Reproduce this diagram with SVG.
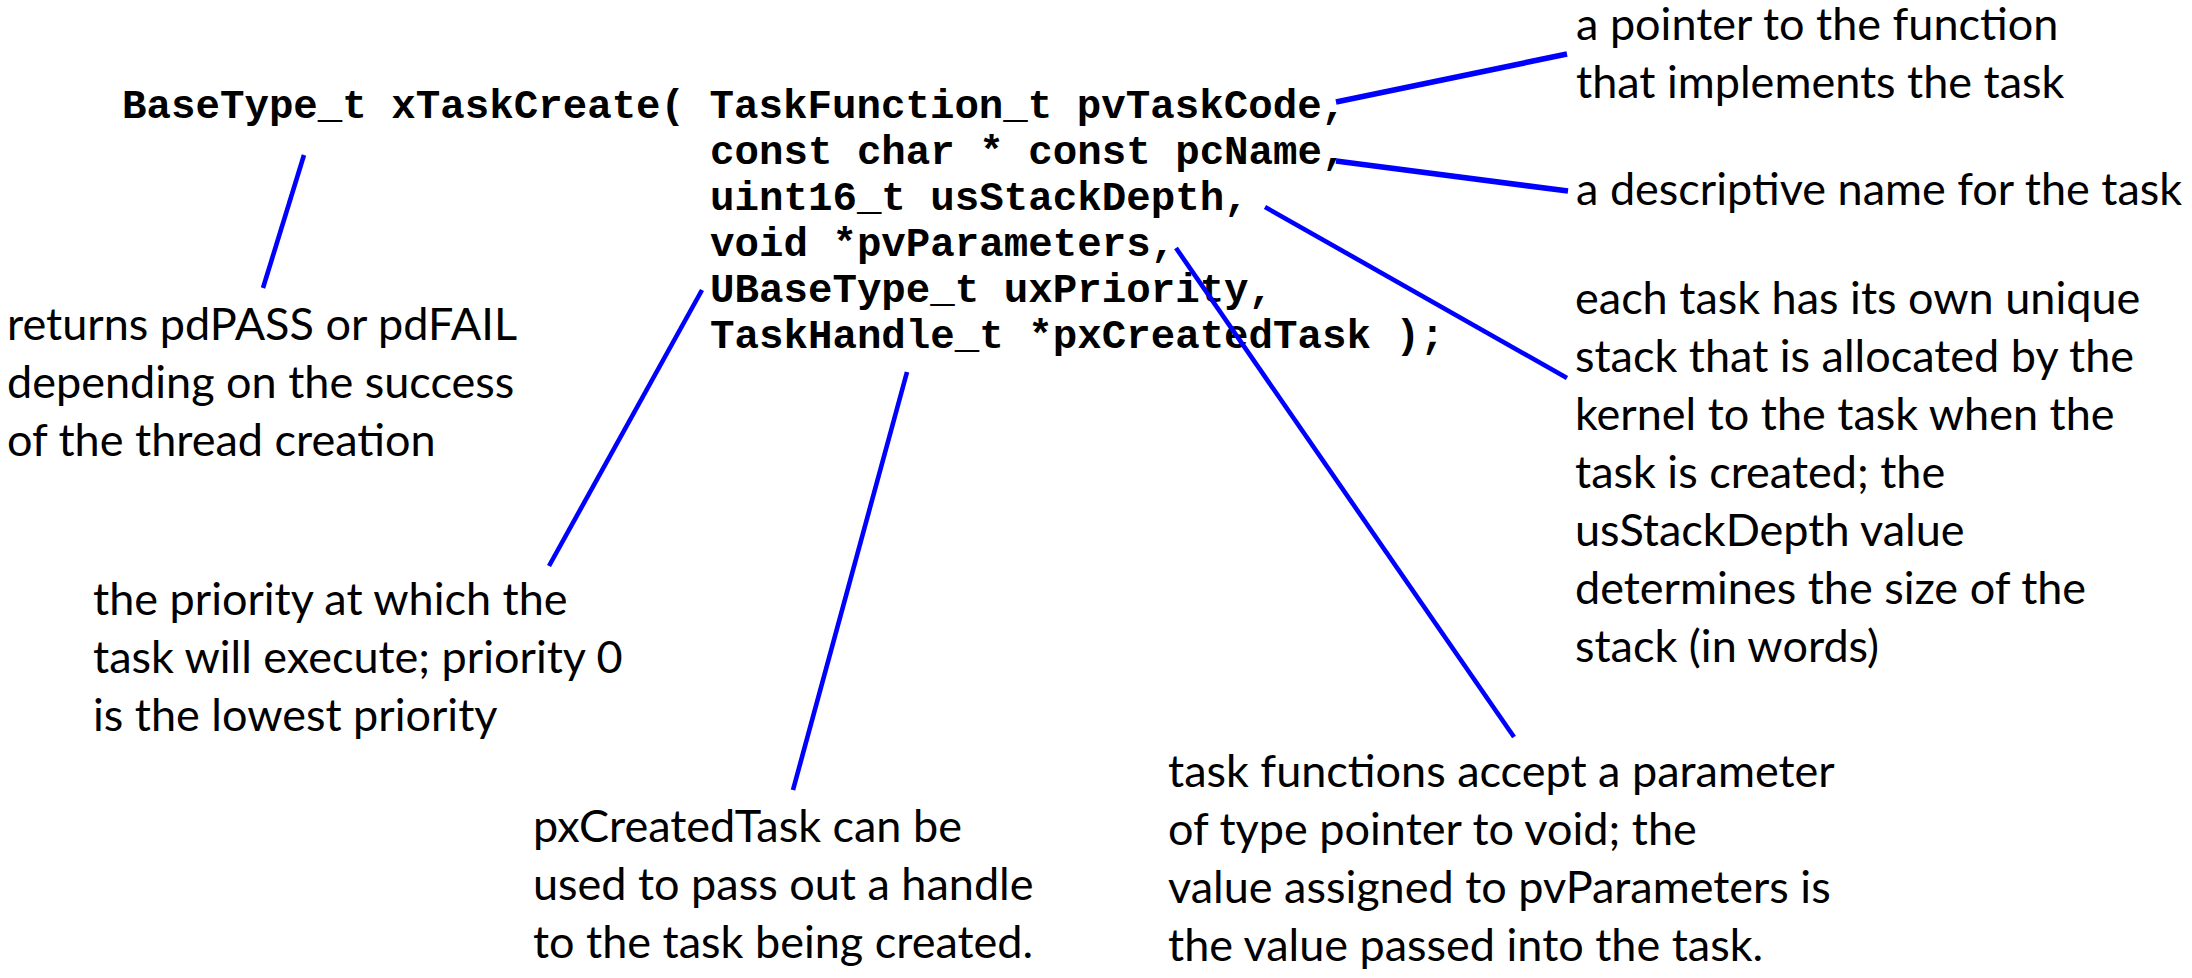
<svg xmlns="http://www.w3.org/2000/svg" width="2192" height="978" viewBox="0 0 2192 978">
<style>
.code{font-family:"Liberation Mono","Courier New",monospace;font-weight:bold;font-size:40.8px;fill:#000}
.note{font-family:Lato,"Open Sans",sans-serif;font-size:45px;fill:#000}
.con line{stroke:#0000FF;stroke-linecap:butt;stroke-width:4.6}
.con line.thick{stroke-width:5.6}
</style>
<rect width="2192" height="978" fill="#fff"/>
<g id="code">
<text class="code" x="122" y="118" xml:space="preserve">BaseType_t xTaskCreate( TaskFunction_t pvTaskCode,</text>
<text class="code" x="710" y="164">const char * const pcName,</text>
<text class="code" x="710" y="210">uint16_t usStackDepth,</text>
<text class="code" x="710" y="256">void *pvParameters,</text>
<text class="code" x="710" y="302">UBaseType_t uxPriority,</text>
<text class="code" x="710" y="348">TaskHandle_t *pxCreatedTask );</text>
</g>
<g id="note-pvTaskCode">
<text class="note" x="1576" y="40">a pointer to the function</text>
<text class="note" x="1576" y="98">that implements the task</text>
</g>
<g id="note-pcName">
<text class="note" x="1576" y="205">a descriptive name for the task</text>
</g>
<g id="note-usStackDepth">
<text class="note" x="1575" y="314">each task has its own unique</text>
<text class="note" x="1575" y="372">stack that is allocated by the</text>
<text class="note" x="1575" y="430">kernel to the task when the</text>
<text class="note" x="1575" y="488">task is created; the</text>
<text class="note" x="1575" y="546">usStackDepth value</text>
<text class="note" x="1575" y="604">determines the size of the</text>
<text class="note" x="1575" y="662">stack (in words)</text>
</g>
<g id="note-return">
<text class="note" x="7" y="340">returns pdPASS or pdFAIL</text>
<text class="note" x="7" y="398">depending on the success</text>
<text class="note" x="7" y="456">of the thread creation</text>
</g>
<g id="note-uxPriority">
<text class="note" x="93" y="615">the priority at which the</text>
<text class="note" x="93" y="673">task will execute; priority 0</text>
<text class="note" x="93" y="731">is the lowest priority</text>
</g>
<g id="note-pxCreatedTask">
<text class="note" x="533" y="842">pxCreatedTask can be</text>
<text class="note" x="533" y="900">used to pass out a handle</text>
<text class="note" x="533" y="958">to the task being created.</text>
</g>
<g id="note-pvParameters">
<text class="note" x="1168" y="787">task functions accept a parameter</text>
<text class="note" x="1168" y="845">of type pointer to void; the</text>
<text class="note" x="1168" y="903">value assigned to pvParameters is</text>
<text class="note" x="1168" y="961">the value passed into the task.</text>
</g>
<g id="connectors" class="con">
<line x1="304" y1="155" x2="263" y2="288"/>
<line class="thick" x1="1336" y1="102" x2="1567" y2="54"/>
<line class="thick" x1="1336" y1="161" x2="1568" y2="191"/>
<line x1="1265" y1="207" x2="1567" y2="378"/>
<line x1="1176" y1="248" x2="1514" y2="737"/>
<line x1="702" y1="290" x2="549" y2="566"/>
<line x1="907" y1="372" x2="793" y2="790"/>
</g>
</svg>
